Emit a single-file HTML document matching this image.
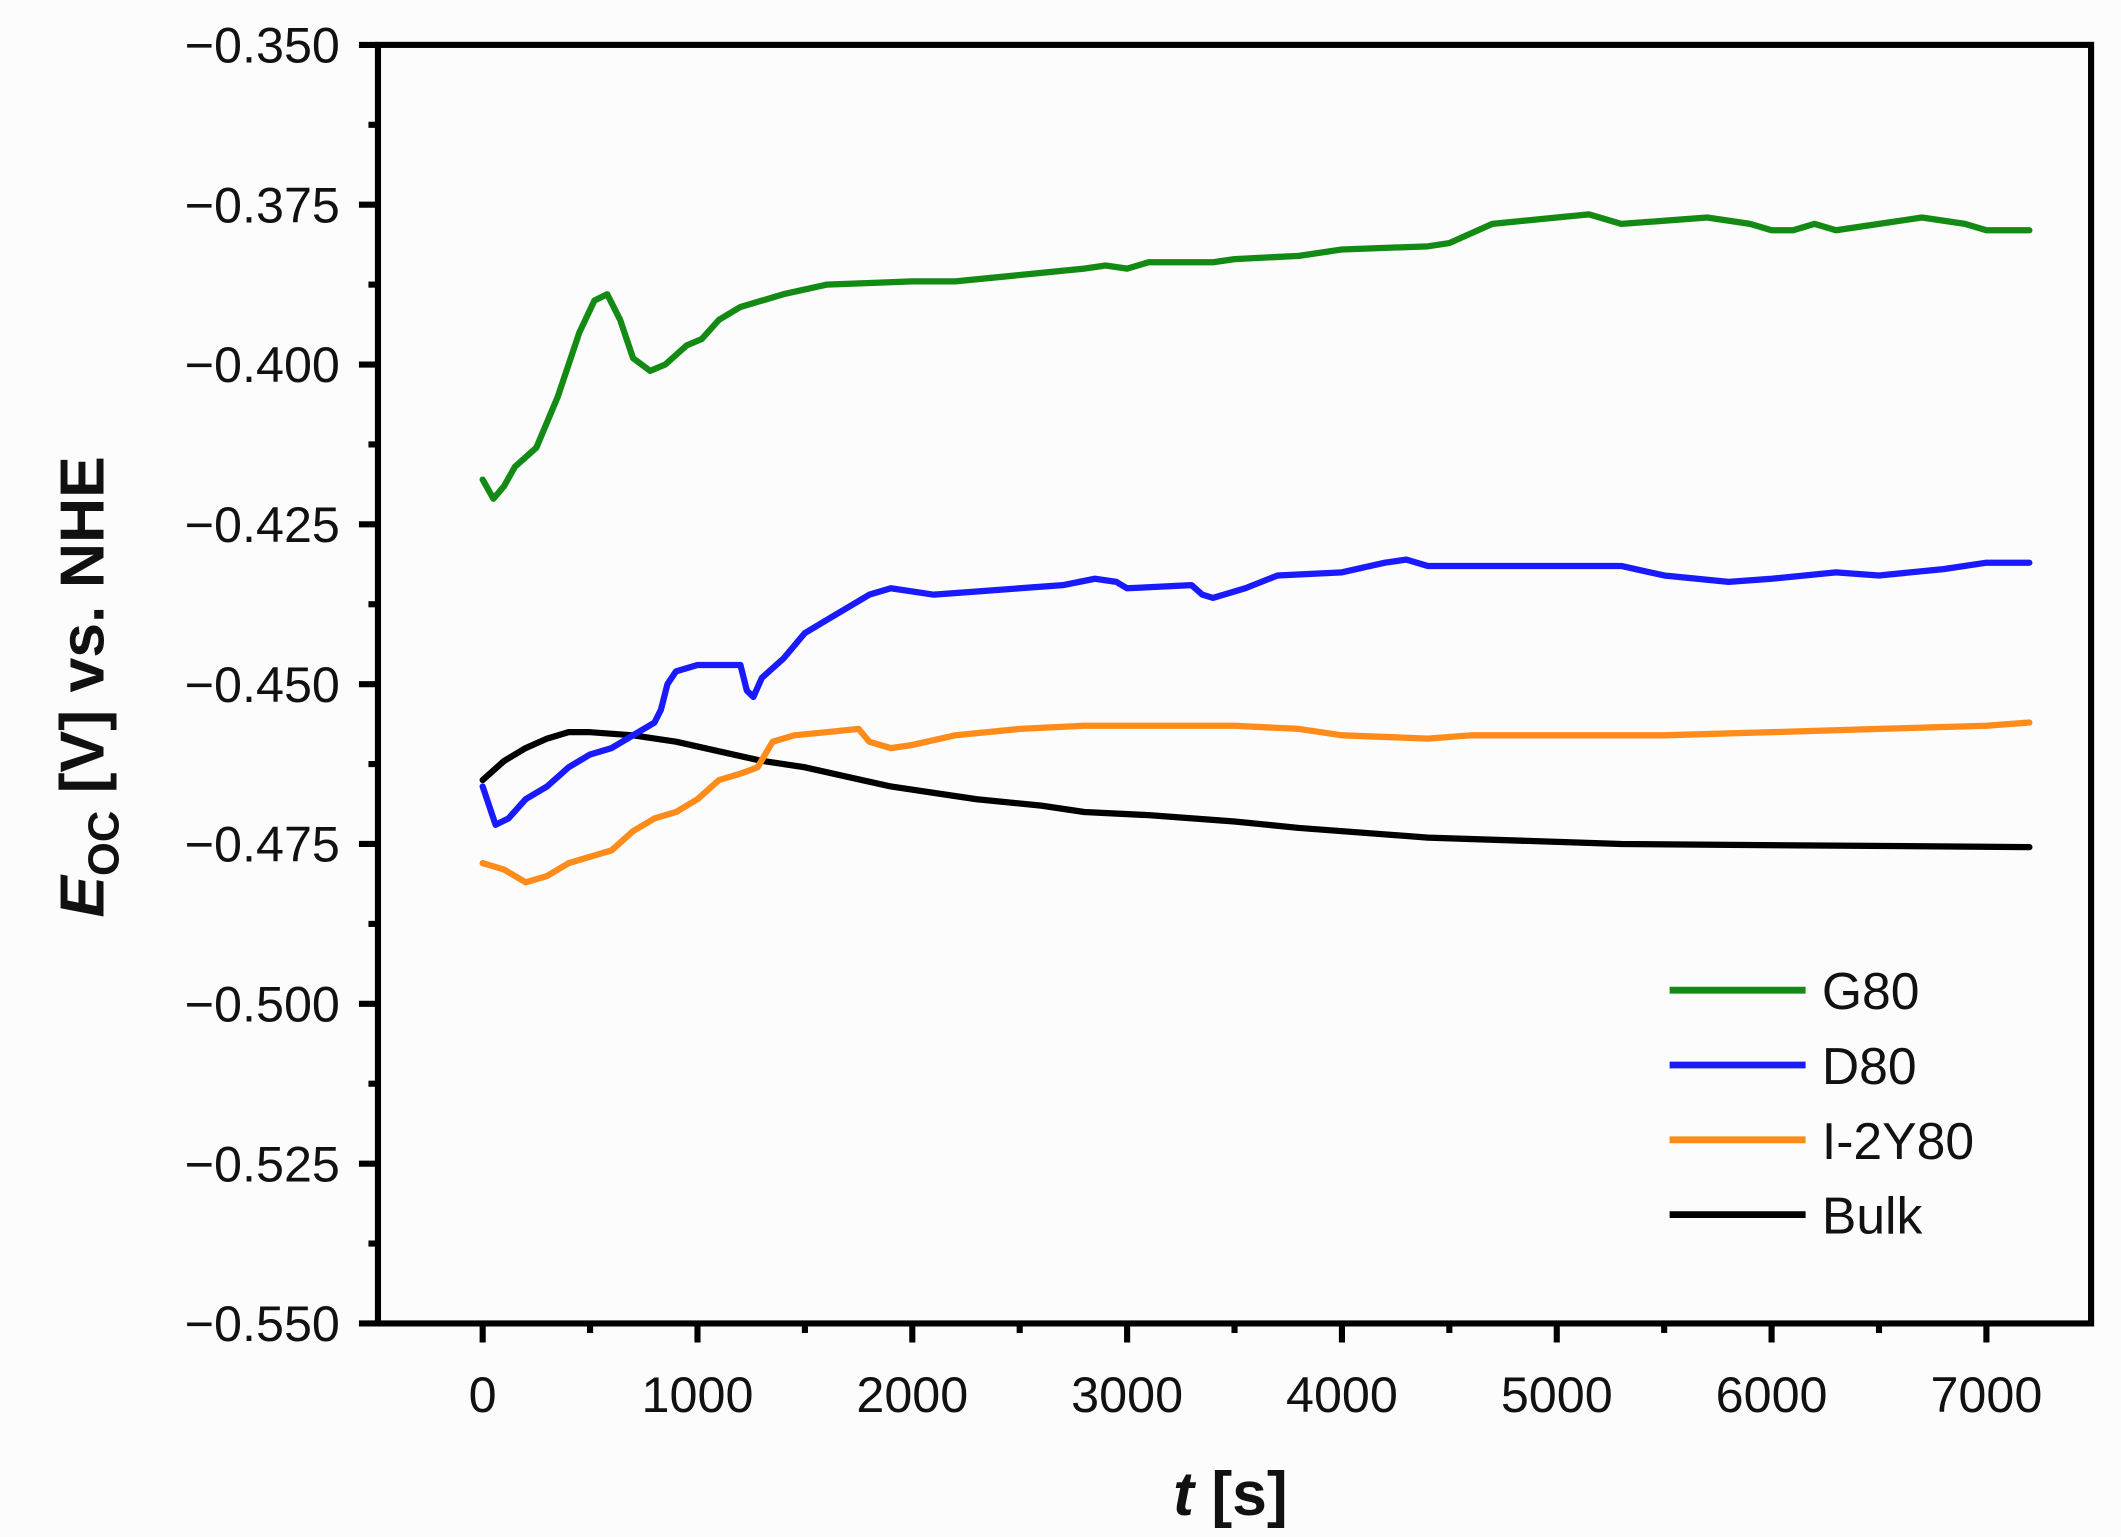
<!DOCTYPE html>
<html><head><meta charset="utf-8"><style>
html,body{margin:0;padding:0;background:#fcfcfc;}
svg{display:block;}
text{font-family:"Liberation Sans",Arial,sans-serif;fill:#111;}
</style></head><body>
<svg id="s" width="2121" height="1537" viewBox="0 0 1560 1130" preserveAspectRatio="none">
<rect x="0" y="0" width="1560" height="1130" fill="#fcfcfc"/>
<g id="series" fill="none" stroke-width="4.6" stroke-linejoin="round" stroke-linecap="round"></g>
<rect x="278" y="33" width="1260" height="940" fill="none" stroke="#000" stroke-width="4.5"/>
<g id="ticks" stroke="#000" stroke-width="4.5"></g>
<g id="labels" font-size="37"></g>
<text x="905" y="1114" font-size="46" font-weight="bold" text-anchor="middle"><tspan font-style="italic">t</tspan> [s]</text>
<text transform="translate(76,505) rotate(-90)" font-size="46" font-weight="bold" text-anchor="middle"><tspan font-style="italic">E</tspan><tspan font-size="32" dy="11">OC</tspan><tspan dy="-11"> [V] vs. NHE</tspan></text>
<g font-size="38">
<line x1="1228" y1="728" x2="1328" y2="728" stroke="#138a13" stroke-width="5"/><text x="1340" y="742">G80</text>
<line x1="1228" y1="783" x2="1328" y2="783" stroke="#1a1aff" stroke-width="5"/><text x="1340" y="797">D80</text>
<line x1="1228" y1="838" x2="1328" y2="838" stroke="#ff8c1a" stroke-width="5"/><text x="1340" y="852">I-2Y80</text>
<line x1="1228" y1="893" x2="1328" y2="893" stroke="#000" stroke-width="5"/><text x="1340" y="907">Bulk</text>
</g>
</svg>
<script>
var NS="http://www.w3.org/2000/svg";
function X(t){return 355+t*0.158;}
function Y(v){return 33+(-0.35-v)/0.025*117.5;}
function el(n,a,p,txt){var e=document.createElementNS(NS,n);for(var k in a)e.setAttribute(k,a[k]);if(txt!==undefined)e.textContent=txt;p.appendChild(e);return e;}
var tk=document.getElementById('ticks'),lb=document.getElementById('labels');
for(var i=0;i<=8;i++){var y=33+i*117.5;el('line',{x1:264,y1:y,x2:278,y2:y},tk);
 var v=(-0.35-0.025*i).toFixed(3);el('text',{x:250,y:y+13,'text-anchor':'end'},lb,'\u2212'+v.slice(1));
 if(i<8){var ym=y+58.75;el('line',{x1:271,y1:ym,x2:278,y2:ym},tk);}}
for(var t=0;t<=7000;t+=1000){var x=X(t);el('line',{x1:x,y1:973,x2:x,y2:987},tk);el('text',{x:x,y:1038,'text-anchor':'middle'},lb,String(t));}
for(var t=-500;t<=7500;t+=1000){var x=X(t);if(x>278&&x<1538)el('line',{x1:x,y1:973,x2:x,y2:980},tk);}
var D={
'#138a13':[[0,-0.418],[50,-0.421],[100,-0.419],[150,-0.416],[250,-0.413],[350,-0.405],[450,-0.395],[520,-0.390],[580,-0.389],[640,-0.393],[700,-0.399],[780,-0.401],[850,-0.400],[950,-0.397],[1020,-0.396],[1100,-0.393],[1200,-0.391],[1400,-0.389],[1600,-0.3875],[2000,-0.387],[2200,-0.387],[2500,-0.386],[2800,-0.385],[2900,-0.3845],[3000,-0.385],[3100,-0.384],[3400,-0.384],[3500,-0.3835],[3800,-0.383],[4000,-0.382],[4400,-0.3815],[4500,-0.381],[4700,-0.378],[5000,-0.377],[5150,-0.3765],[5300,-0.378],[5500,-0.3775],[5700,-0.377],[5900,-0.378],[6000,-0.379],[6100,-0.379],[6200,-0.378],[6300,-0.379],[6500,-0.378],[6700,-0.377],[6900,-0.378],[7000,-0.379],[7200,-0.379]],
'#1a1aff':[[0,-0.466],[60,-0.472],[120,-0.471],[200,-0.468],[300,-0.466],[400,-0.463],[500,-0.461],[600,-0.460],[700,-0.458],[800,-0.456],[830,-0.454],[860,-0.450],[900,-0.448],[1000,-0.447],[1100,-0.447],[1200,-0.447],[1230,-0.451],[1260,-0.452],[1300,-0.449],[1400,-0.446],[1500,-0.442],[1600,-0.440],[1700,-0.438],[1800,-0.436],[1900,-0.435],[2100,-0.436],[2300,-0.4355],[2500,-0.435],[2700,-0.4345],[2850,-0.4335],[2950,-0.434],[3000,-0.435],[3300,-0.4345],[3350,-0.436],[3400,-0.4365],[3550,-0.435],[3700,-0.433],[4000,-0.4325],[4200,-0.431],[4300,-0.4305],[4400,-0.4315],[4600,-0.4315],[5000,-0.4315],[5300,-0.4315],[5500,-0.433],[5800,-0.434],[6000,-0.4335],[6300,-0.4325],[6500,-0.433],[6800,-0.432],[7000,-0.431],[7200,-0.431]],
'#ff8c1a':[[0,-0.478],[100,-0.479],[200,-0.481],[300,-0.480],[400,-0.478],[500,-0.477],[600,-0.476],[700,-0.473],[800,-0.471],[900,-0.470],[1000,-0.468],[1100,-0.465],[1200,-0.464],[1280,-0.463],[1350,-0.459],[1450,-0.458],[1600,-0.4575],[1750,-0.457],[1800,-0.459],[1900,-0.460],[2000,-0.4595],[2200,-0.458],[2500,-0.457],[2800,-0.4565],[3000,-0.4565],[3500,-0.4565],[3800,-0.457],[4000,-0.458],[4400,-0.4585],[4600,-0.458],[5000,-0.458],[5500,-0.458],[6000,-0.4575],[6500,-0.457],[7000,-0.4565],[7200,-0.456]],
'#000000':[[0,-0.465],[100,-0.462],[200,-0.460],[300,-0.4585],[400,-0.4575],[500,-0.4575],[700,-0.458],[900,-0.459],[1100,-0.4605],[1300,-0.462],[1500,-0.463],[1700,-0.4645],[1900,-0.466],[2100,-0.467],[2300,-0.468],[2600,-0.469],[2800,-0.470],[3100,-0.4705],[3500,-0.4715],[3800,-0.4725],[4400,-0.474],[5300,-0.475],[7200,-0.4755]]};
var sg=document.getElementById('series');
['#000000','#ff8c1a','#1a1aff','#138a13'].forEach(function(c){var d=D[c].map(function(p,i){return (i?'L':'M')+X(p[0]).toFixed(1)+' '+Y(p[1]).toFixed(1);}).join('');el('path',{d:d,stroke:c},sg);});
</script>
</body></html>
